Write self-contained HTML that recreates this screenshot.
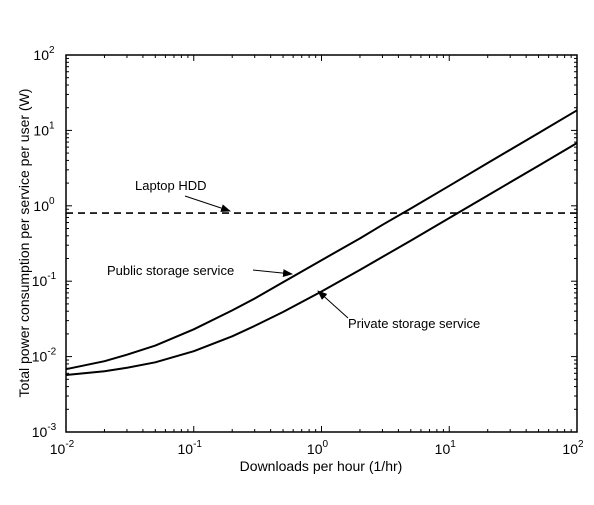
<!DOCTYPE html>
<html><head><meta charset="utf-8"><style>
body{margin:0;background:#fff}
svg{font-family:"Liberation Sans",Arial,sans-serif}
</style></head><body>
<svg id="c" width="594" height="500" xmlns="http://www.w3.org/2000/svg"></svg>
<script>
const xs=[0.01,0.02,0.03,0.05,0.1,0.2,0.3,0.5,1,2,3,5,10,20,50,100];
const publicVals=[0.0068,0.0087,0.0106,0.014,0.023,0.041,0.059,0.097,0.19,0.37,0.56,0.92,1.84,3.7,9.2,18.5];
const privateVals=[0.0057,0.0064,0.0071,0.0084,0.0118,0.0186,0.0255,0.039,0.073,0.141,0.21,0.345,0.69,1.37,3.4,6.8];
const hddVal=0.8;
const xTickExp=[-2,-1,0,1,2];
const yTickExp=[-3,-2,-1,0,1,2];
const L=66,R=577,T=55,B=432;
const X=v=>L+(Math.log10(v)+2)/4*(R-L);
const Y=v=>B-(Math.log10(v)+3)/5*(B-T);
const svg=document.getElementById('c');const NS='http://www.w3.org/2000/svg';
function el(t,a,p){const e=document.createElementNS(NS,t);for(const k in a)e.setAttribute(k,a[k]);(p||svg).appendChild(e);return e;}
const defs=el('defs',{});
const m=el('marker',{id:'ah',markerWidth:'10',markerHeight:'8',refX:'9',refY:'4',orient:'auto',markerUnits:'userSpaceOnUse'},defs);
el('path',{d:'M0,0 L10,4 L0,8 Z',fill:'#000'},m);
const frame=el('rect',{x:L,y:T,width:R-L,height:B-T,fill:'none',stroke:'#000','stroke-width':1.5});

for(let e=-2;e<2;e++)for(let k=1;k<10;k++){const x=X(k*Math.pow(10,e));const len=k==1?6:3;
 el('line',{x1:x,y1:B,x2:x,y2:B-len,stroke:'#000'});el('line',{x1:x,y1:T,x2:x,y2:T+len,stroke:'#000'});}
for(let e=-3;e<2;e++)for(let k=1;k<10;k++){const y=Y(k*Math.pow(10,e));const len=k==1?6:3;
 el('line',{x1:L,y1:y,x2:L+len,y2:y,stroke:'#000'});el('line',{x1:R,y1:y,x2:R-len,y2:y,stroke:'#000'});}
xTickExp.forEach(e=>{const t=el('text',{x:X(Math.pow(10,e))-4,y:B+22,'font-size':14,'text-anchor':'middle'});
 
 t.innerHTML='10<tspan dy="-7" font-size="10">'+e+'</tspan>';});
yTickExp.forEach(e=>{const t=el('text',{x:L-22,y:Y(Math.pow(10,e))+5,'font-size':14,'text-anchor':'middle'});
 
 t.innerHTML='10<tspan dy="-7" font-size="10">'+e+'</tspan>';});
function line(vals,name){const d=xs.map((x,i)=>(i?'L':'M')+X(x).toFixed(1)+','+Y(vals[i]).toFixed(1)).join(' ');
 const p=el('path',{d,fill:'none',stroke:'#000','stroke-width':2,'stroke-linejoin':'round'});
 }
line(publicVals,'public-storage-line');line(privateVals,'private-storage-line');
const h=el('line',{x1:L,y1:Y(hddVal),x2:R,y2:Y(hddVal),stroke:'#000','stroke-width':1.6,'stroke-dasharray':'7,5'});

function ann(txt,tx,ty,x1,y1,x2,y2,name){const t=el('text',{x:tx,y:ty,'font-size':13});t.textContent=txt;
 
 el('line',{x1,y1,x2,y2,stroke:'#000','marker-end':'url(#ah)'});}
ann('Laptop HDD',135,190,185,196,230,211,'laptop-hdd-annotation');
ann('Public storage service',107,275,253,270,292,274,'public-annotation');
ann('Private storage service',348,328,348,318,318,291,'private-annotation');
const xl=el('text',{x:321,y:471,'font-size':14,'text-anchor':'middle'});xl.textContent='Downloads per hour (1/hr)';

const yl=el('text',{x:0,y:0,'font-size':14,'text-anchor':'middle',transform:'translate(29,243) rotate(-90)'});
yl.textContent='Total power consumption per service per user (W)';

</script>
</body></html>
